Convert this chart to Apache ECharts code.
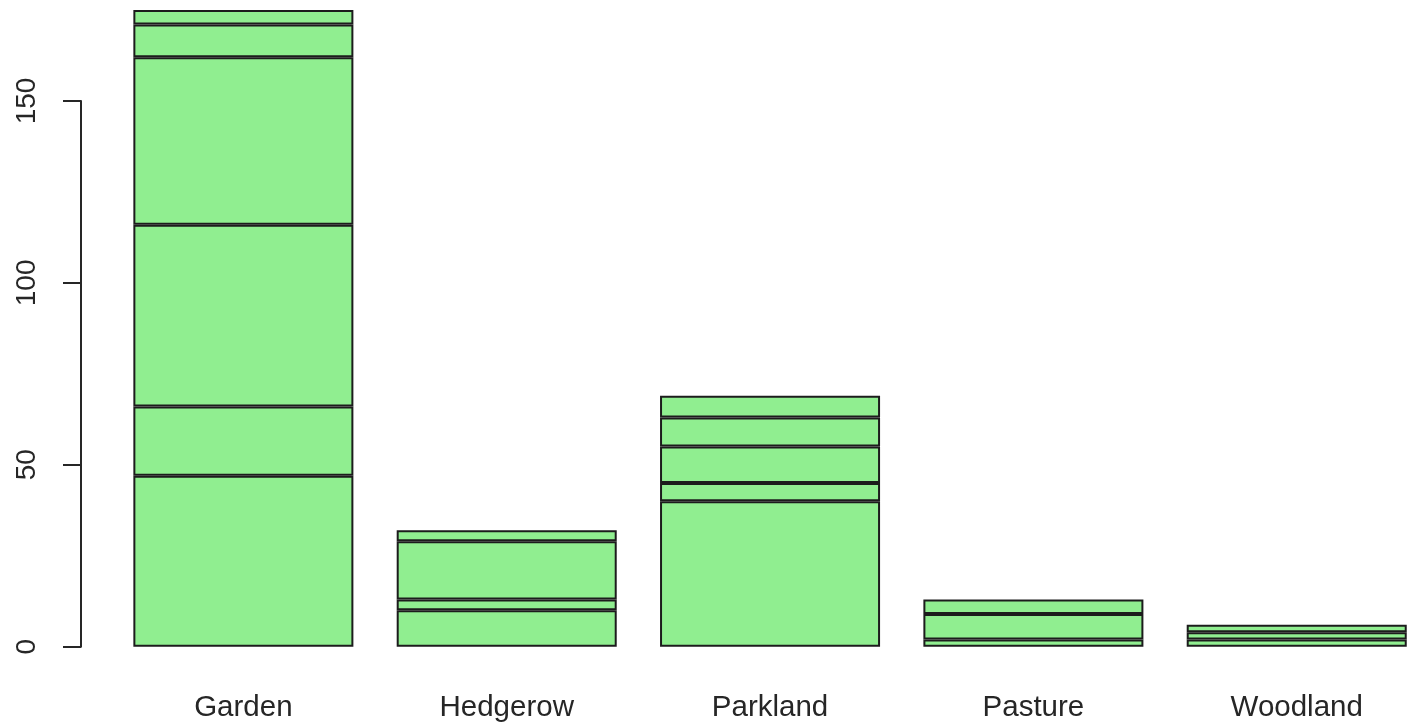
<!DOCTYPE html>
<html>
<head>
<meta charset="utf-8">
<script src="https://cdn.jsdelivr.net/npm/echarts@6/dist/echarts.min.js"></script>
<style>
html,body{margin:0;padding:0;background:#fff;}
#c{width:1408px;height:728px;}
</style>
</head>
<body>
<div id="c"></div>
<script>
const categories = ['Garden', 'Hedgerow', 'Parkland', 'Pasture', 'Woodland'];
const seg1 = [47, 10, 40, 2, 2];
const seg2 = [19, 3, 5, 7, 2];
const seg3 = [50, 16, 10, 4, 2];
const seg4 = [46, 3, 8, null, null];
const seg5 = [9, null, 6, null, null];
const seg6 = [4, null, null, null, null];
const yTicks = [0, 50, 100, 150];

const segments = [seg1, seg2, seg3, seg4, seg5, seg6];
const font = '"Liberation Sans", Arial, sans-serif';
const chart = echarts.init(document.getElementById('c'));
chart.setOption({
  animation: false,
  backgroundColor: '#fff',
  grid: [
    { left: 111.7, width: 1316.7, top: 10, bottom: 81.3, outerBoundsMode: 'none', containLabel: false },
    { left: 81, width: 100, top: 101, bottom: 81.3, outerBoundsMode: 'none', containLabel: false }
  ],
  xAxis: [
    {
      gridIndex: 0, type: 'category', data: categories,
      axisLine: { show: false }, axisTick: { show: false },
      axisLabel: { margin: 46, fontSize: 29.5, color: '#262626', fontFamily: font },
      splitLine: { show: false }
    },
    { gridIndex: 1, type: 'value', show: false }
  ],
  yAxis: [
    { gridIndex: 0, type: 'value', min: 0, max: 175, show: false, splitLine: { show: false } },
    {
      gridIndex: 1, type: 'value', min: yTicks[0], max: yTicks[yTicks.length - 1], interval: 50,
      axisLine: { show: true, lineStyle: { color: '#262626', width: 2 } },
      axisTick: { show: true, length: 18, lineStyle: { color: '#262626', width: 2 } },
      axisLabel: { rotate: 90, margin: 40, fontSize: 28, color: '#262626', fontFamily: font },
      splitLine: { show: false }
    }
  ],
  series: segments.map((d, i) => ({
    type: 'bar', stack: 'total', data: d,
    xAxisIndex: 0, yAxisIndex: 0,
    barCategoryGap: '16.45%',
    itemStyle: { color: '#90EE90', borderColor: '#1c1c1c', borderWidth: 2 }
  }))
});
</script>
</body>
</html>
